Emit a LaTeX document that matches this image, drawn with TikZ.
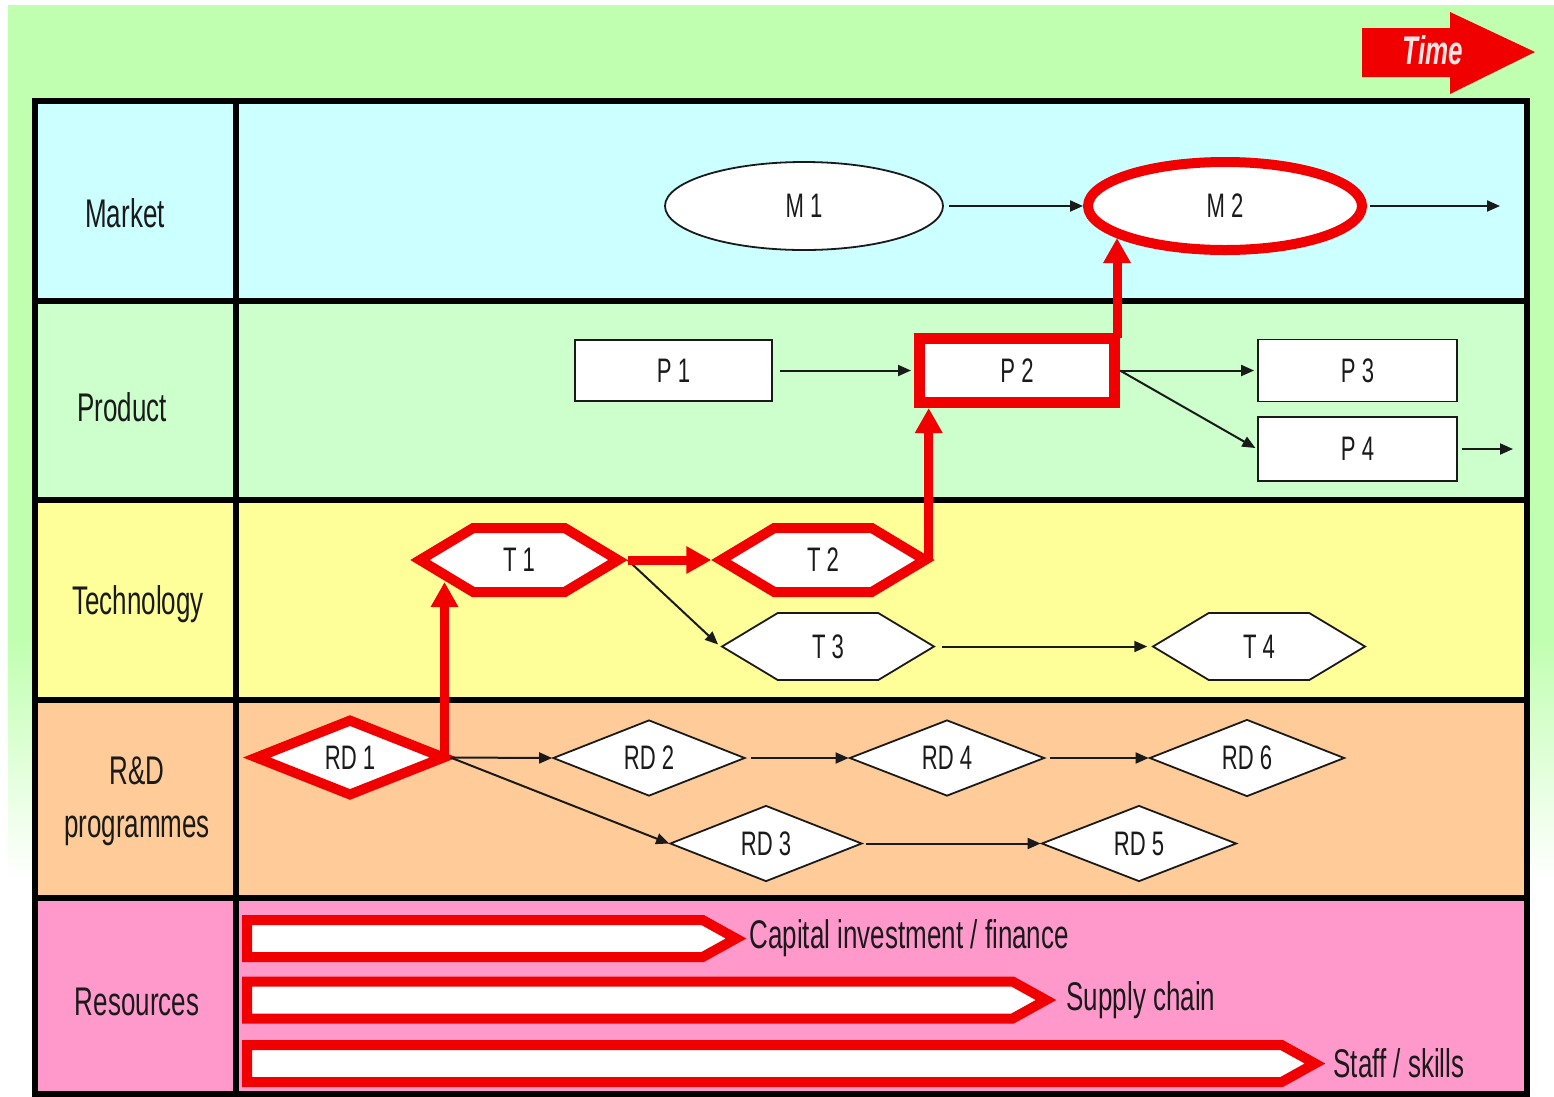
\documentclass[tikz,border=0pt]{standalone}
\usepackage{fontspec}
\setmainfont{Liberation Sans}[FakeStretch=0.65]
\usetikzlibrary{shapes.geometric,shapes.symbols,arrows.meta,calc}

\definecolor{bggreen}{RGB}{192,255,176}
\definecolor{mktfill}{RGB}{204,255,255}
\definecolor{prdfill}{RGB}{204,255,204}
\definecolor{tecfill}{RGB}{255,255,153}
\definecolor{rdfill}{RGB}{255,204,153}
\definecolor{resfill}{RGB}{255,153,204}
\definecolor{hotred}{RGB}{240,0,0}
\definecolor{ink}{RGB}{26,26,26}
\definecolor{timetext}{RGB}{255,228,228}

\newcommand\lblfont{\fontsize{34}{40}\selectfont}
\newcommand\rowfont{\fontsize{40}{53}\selectfont}

\begin{document}
\begin{tikzpicture}[x=1pt,y=-1pt,
  grid/.style={draw=black,line width=6pt},
  base/.style={draw=ink,line width=1.8pt,fill=white,inner sep=0pt,text=ink,font=\lblfont},
  ovalbox/.style={base,ellipse},
  recbox/.style={base,rectangle},
  hexbox/.style={base,signal,signal to=east and west,signal pointer angle=62},
  diabox/.style={base,diamond},
  hot/.style={draw=hotred,line width=10pt},
  barbox/.style={signal,signal to=east,signal pointer angle=58,draw=hotred,
    line width=10pt,fill=white,inner sep=0pt,minimum height=37pt,anchor=west},
  rowlbl/.style={text=ink,font=\rowfont,align=center},
  restext/.style={text=ink,font=\rowfont,anchor=west,inner sep=0pt},
  arr/.style={draw=ink,line width=2pt,-{Triangle[length=13pt,width=11pt]}},
  redarr/.style={draw=hotred,line width=9pt,-{Triangle[length=25pt,width=26pt]}}]

\useasboundingbox (0,0) rectangle (1554,1096);
\fill[white] (0,0) rectangle (1554,1096);
% page background
\fill[bggreen] (8,5) rectangle (1554,640);
\shade[top color=bggreen,bottom color=white] (8,639) rectangle (1554,880);

% time arrow
\fill[hotred] (1362,28) -- (1450,28) -- (1450,12) -- (1535,52)
  -- (1450,94) -- (1450,77) -- (1362,77) -- cycle;
\node[text=timetext,font=\fontsize{40}{40}\selectfont\bfseries\itshape] (time) at (1433,50) {Time};

% swim lanes
\fill[mktfill] (34,101) rectangle (1527,301);
\fill[prdfill] (34,301) rectangle (1527,500);
\fill[tecfill] (34,500) rectangle (1527,700);
\fill[rdfill]  (34,700) rectangle (1527,898);
\fill[resfill] (34,898) rectangle (1527,1095);
\draw[grid] (34.5,101) rectangle (1527,1094);
\draw[grid] (236,101) -- (236,1094);
\foreach \yy in {301,500,700,898} \draw[grid] (34.5,\yy) -- (1527,\yy);

% lane titles
\node[rowlbl] (lmarket) at (125,213) {Market};
\node[rowlbl] (lproduct) at (122,407) {Product};
\node[rowlbl] (ltech) at (138,604) {Technology};
\node[rowlbl] (lrd) at (137,801) {R\&D\\programmes};
\node[rowlbl] (lres) at (137,1002) {Resources};

% market
\node[ovalbox,minimum width=278pt,minimum height=88pt] (M1) at (804,206) {M 1};
\node[ovalbox,hot,minimum width=274pt,minimum height=88pt] (M2) at (1225,206) {M 2};
\coordinate (mend) at (1500,206);

% product
\node[recbox,minimum width=197pt,minimum height=61pt] (P1) at (673.5,370.5) {P 1};
\node[recbox,hot,line width=11pt,minimum width=195pt,minimum height=64pt] (P2) at (1017,370.5) {P 2};
\node[recbox,minimum width=199pt,minimum height=62pt] (P3) at (1357.5,370.5) {P 3};
\node[recbox,minimum width=199pt,minimum height=64pt] (P4) at (1357.5,449) {P 4};
\coordinate (pend) at (1513,449);

% technology
\node[hexbox,hot,minimum width=198pt,minimum height=64pt] (T1) at (519,560) {T 1};
\node[hexbox,hot,minimum width=204pt,minimum height=64pt] (T2) at (823,560) {T 2};
\node[hexbox,minimum width=212pt,minimum height=67pt] (T3) at (828,646.5) {T 3};
\node[hexbox,minimum width=212pt,minimum height=67pt] (T4) at (1259,646.5) {T 4};

% R&D programmes
\node[diabox,hot,minimum width=191pt,minimum height=78pt] (RD1) at (350,757.5) {RD 1};
\node[diabox,minimum width=192pt,minimum height=76pt] (RD2) at (649,758) {RD 2};
\node[diabox,minimum width=195pt,minimum height=76pt] (RD4) at (947,758) {RD 4};
\node[diabox,minimum width=195pt,minimum height=77pt] (RD6) at (1247,758) {RD 6};
\node[diabox,minimum width=192pt,minimum height=76pt] (RD3) at (766,843.5) {RD 3};
\node[diabox,minimum width=195pt,minimum height=76pt] (RD5) at (1139,843.5) {RD 5};

% resources
\node[barbox,minimum width=489pt] (bar1) at (242,938.5) {};
\node[barbox,minimum width=799pt] (bar2) at (242,1000) {};
\node[barbox,minimum width=1068pt] (bar3) at (242,1063.5) {};
\node[restext] (cap) at ([xshift=3pt]bar1.east) {Capital investment / finance};
\node[restext] (sup) at ([xshift=10pt]bar2.east) {Supply chain};
\node[restext] (staff) at ([xshift=8pt]bar3.east) {Staff / skills};

% thin links
\draw[arr,shorten <=5pt] (M1.east) -- (M2.west);
\draw[arr,shorten <=3pt] (M2.east) -- (mend);
\draw[arr,shorten <=7pt,shorten >=3pt] (P1.east) -- (P2.west);
\draw[arr,shorten >=3pt] (P2.east) -- (P3.west);
\draw[arr,shorten >=2pt] (P2.east) -- (P4.west);
\draw[arr,shorten <=4pt] (P4.east) -- (pend);
\draw[arr,shorten >=3pt] (T1.east) -- (T3.west);
\draw[arr,shorten <=6pt,shorten >=4pt] (T3.east) -- (T4.west);
\draw[arr] (RD1.east) -- (RD2.west);
\draw[arr,shorten <=5pt] (RD2.east) -- (RD4.west);
\draw[arr,shorten <=5pt] (RD4.east) -- (RD6.west);
\draw[arr] (RD1.east) -- (RD3.west);
\draw[arr,shorten <=3pt] (RD3.east) -- (RD5.west);

% critical path
\draw[redarr] ($(RD1.east)+(-6,0)$) -- ($(RD1.east |- T1.center)+(-6,22)$);
\draw[redarr] (T1.east) -- (T2.west);
\draw[redarr] ($(T2.east)+(-6,0)$) -- ($(T2.east |- P2.south)+(-6,0)$);
\draw[redarr] ($(P2.north east)+(-3,5)$) -- ($(P2.north east |- M2.center)+(-3,32)$);
\end{tikzpicture}
\end{document}
